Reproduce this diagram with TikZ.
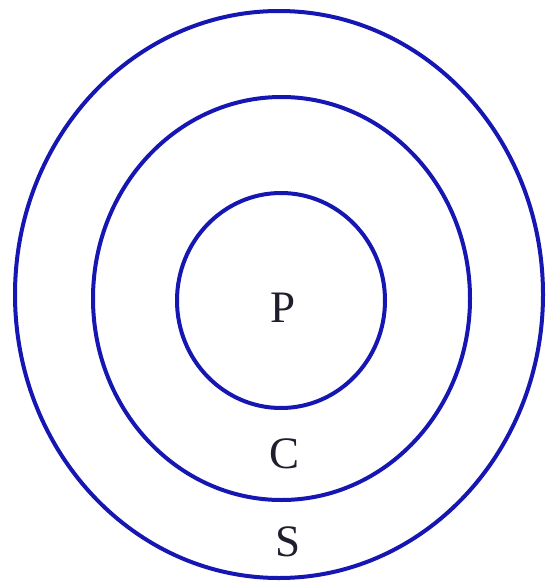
\documentclass[tikz,border=0pt]{standalone}
\usepackage{fontspec}
\setmainfont{Liberation Serif}
\definecolor{ringblue}{RGB}{22,22,178}
\definecolor{labelink}{RGB}{30,30,45}
\begin{document}
\begin{tikzpicture}[x=1pt,y=-1pt,
  ring/.style={draw=ringblue,line width=4pt},
  lbl/.style={text=labelink,font=\fontsize{45}{45}\selectfont,inner sep=0pt}]
\useasboundingbox (0,0) rectangle (551,586);
\draw[ring] (279,294.5) ellipse [x radius=264, y radius=283.5];
\draw[ring] (281.5,298.5) ellipse [x radius=188.5, y radius=201.5];
\draw[ring] (281,300.5) ellipse [x radius=104, y radius=107.5];
\node[lbl] (p) at (283,308) {P};
\node[lbl] (c) at (285,453.5) {C};
\node[lbl] (s) at (288.5,542) {S};
\end{tikzpicture}
\end{document}
